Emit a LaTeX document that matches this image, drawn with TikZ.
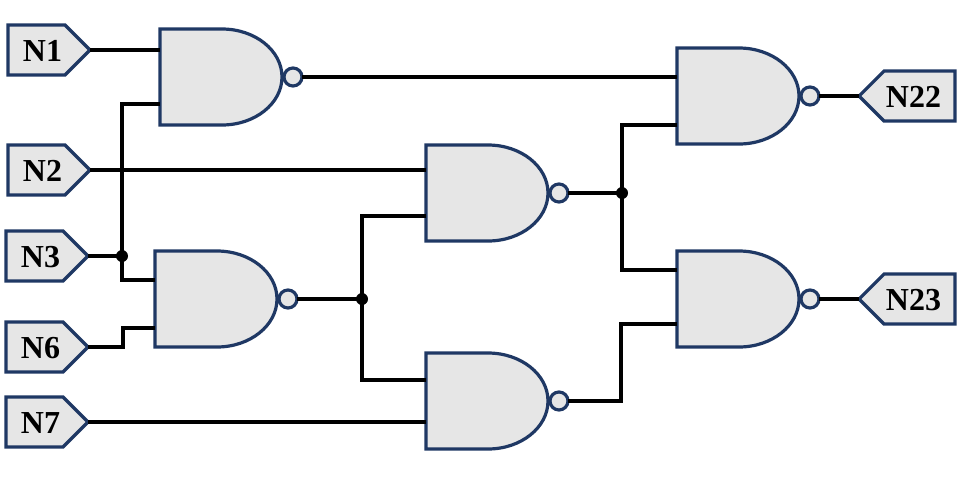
\documentclass[tikz,border=0pt]{standalone}
\usepackage{fontspec}
\setmainfont{Liberation Serif}
\usetikzlibrary{shapes.symbols}
\definecolor{navy}{HTML}{1F3864}
\definecolor{gatefill}{HTML}{E6E6E6}
\tikzset{
  x=1pt,y=-1pt,
  wire/.style={line width=4pt,black},
  tag/.style={signal,signal pointer angle=90,draw=navy,fill=gatefill,line width=3.2pt,
    minimum width=82pt,minimum height=50pt,inner sep=0pt,outer sep=0pt,
    text height=23pt,text depth=0pt,
    font=\fontsize{32}{32}\selectfont\bfseries},
  intag/.style={tag,signal to=east,anchor=east,execute at begin node={\hspace*{12pt}}},
  outtag/.style={tag,signal to=west,anchor=west,minimum width=96pt,execute at end node={\hspace*{12pt}}},
  bubble/.style={circle,draw=navy,fill=gatefill,line width=3.2pt,minimum size=18pt,inner sep=0pt,outer sep=0pt},
  junction/.style={circle,fill=black,minimum size=12pt,inner sep=0pt,outer sep=0pt},
  pics/nandg/.style args={#1/#2}{code={
    \draw[navy,fill=gatefill,line width=3.2pt,line join=miter]
      (0,0) -- (62,0) .. controls (95,0) and (122,21.5) .. (122,48)
      .. controls (122,74.5) and (95,96) .. (62,96) -- (0,96) -- cycle;
    \node[bubble] (b) at (133,48) {};
    \coordinate (in1) at (0,#1);
    \coordinate (in2) at (0,#2);
  }}
}
\begin{document}
\begin{tikzpicture}
\useasboundingbox (0,0) rectangle (960,480);
% gates
\pic (ga) at (160,29) {nandg={21/75}};
\pic (gb) at (155,251) {nandg={29/77}};
\pic (gc) at (426,145) {nandg={25/71}};
\pic (gd) at (426,353) {nandg={27/69}};
\pic (ge) at (677,48) {nandg={29/77}};
\pic (gf) at (677,251) {nandg={19/73}};
% terminals
\node[intag] (n1) at (90,50) {N1};
\node[intag] (n2) at (90,170) {N2};
\node[intag] (n3) at (88,256) {N3};
\node[intag] (n6) at (88,347) {N6};
\node[intag] (n7) at (88,422) {N7};
\node[outtag] (n22) at (859,96) {N22};
\node[outtag] (n23) at (859,299) {N23};
% junctions
\node[junction] (j1) at (122,256) {};
\node[junction] (j2) at (362,299) {};
\node[junction] (j3) at (622,193) {};
% wires
\draw[wire] (n1.east) -- (gain1);
\draw[wire] (n2.east) -- (gcin1);
\draw[wire] (n3.east) -- (j1.center);
\draw[wire] (j1.center) |- (gain2);
\draw[wire] (j1.center) |- (gbin1);
\draw[wire] (n6.east) -- ++(35,0) |- (gbin2);
\draw[wire] (n7.east) -- (gdin2);
\draw[wire] (gab.east) -- (gein1);
\draw[wire] (gbb.east) -- (j2.center);
\draw[wire] (j2.center) |- (gcin2);
\draw[wire] (j2.center) |- (gdin1);
\draw[wire] (gcb.east) -- (j3.center);
\draw[wire] (j3.center) |- (gein2);
\draw[wire] (j3.center) |- (gfin1);
\draw[wire] (gdb.east) -- ++(53,0) |- (gfin2);
\draw[wire] (geb.east) -- (n22.west);
\draw[wire] (gfb.east) -- (n23.west);
\end{tikzpicture}
\end{document}
